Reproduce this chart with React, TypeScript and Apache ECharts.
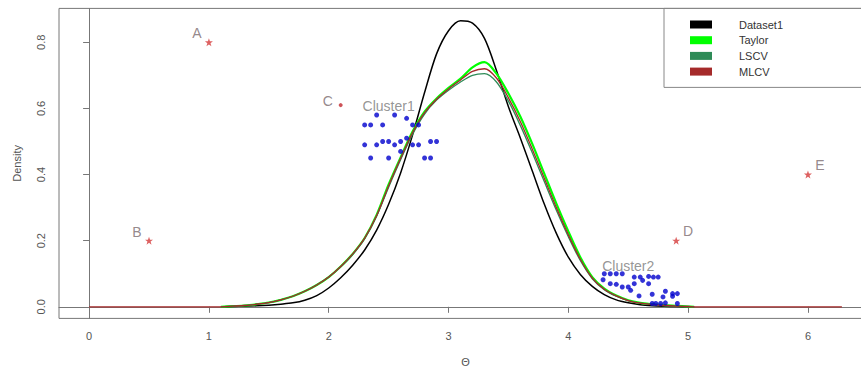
import React, { useEffect, useRef } from "react";
import * as echarts from "echarts";

// x grid (theta) shared by the density curves
const theta = [
  1.1, 1.2, 1.3, 1.4, 1.5, 1.6, 1.7, 1.8, 1.9, 2.0,
  2.1, 2.2, 2.3, 2.4, 2.5, 2.6, 2.7, 2.8, 2.9, 3.0,
  3.1, 3.2, 3.3, 3.4, 3.5, 3.6, 3.7, 3.8, 3.9, 4.0,
  4.1, 4.2, 4.3, 4.4, 4.5, 4.6, 4.7, 4.8, 4.9, 5.0, 5.05,
];

const dataset1 = [
  0.0, 0.001, 0.002, 0.003, 0.005, 0.008, 0.012, 0.02, 0.034, 0.057,
  0.088, 0.126, 0.172, 0.232, 0.31, 0.405, 0.52, 0.648, 0.765, 0.835,
  0.865, 0.858, 0.812, 0.715, 0.605, 0.51, 0.41, 0.31, 0.222, 0.15,
  0.098, 0.062, 0.037, 0.021, 0.012, 0.006, 0.003, 0.0015, 0.0007, 0.0002, 0.0,
];

const taylor = [
  0.0, 0.002, 0.004, 0.008, 0.013, 0.021, 0.032, 0.047, 0.066, 0.09,
  0.122, 0.16, 0.208, 0.278, 0.37, 0.452, 0.53, 0.59, 0.63, 0.662,
  0.69, 0.724, 0.74, 0.705, 0.645, 0.575, 0.492, 0.402, 0.312, 0.228,
  0.15, 0.09, 0.055, 0.034, 0.02, 0.012, 0.008, 0.005, 0.003, 0.001, 0.0,
];

const lscv = [
  0.0, 0.002, 0.004, 0.008, 0.013, 0.021, 0.032, 0.047, 0.066, 0.09,
  0.121, 0.158, 0.206, 0.274, 0.362, 0.445, 0.522, 0.583, 0.625, 0.655,
  0.68, 0.7, 0.705, 0.68, 0.622, 0.548, 0.465, 0.378, 0.292, 0.212,
  0.14, 0.085, 0.052, 0.032, 0.019, 0.011, 0.007, 0.004, 0.002, 0.001, 0.0,
];

const mlcv = [
  0.0, 0.002, 0.004, 0.008, 0.013, 0.021, 0.032, 0.047, 0.066, 0.09,
  0.122, 0.16, 0.208, 0.276, 0.366, 0.449, 0.527, 0.587, 0.628, 0.659,
  0.686, 0.712, 0.72, 0.692, 0.632, 0.56, 0.476, 0.388, 0.3, 0.218,
  0.144, 0.087, 0.053, 0.033, 0.019, 0.011, 0.007, 0.004, 0.002, 0.001, 0.0,
];

// MLCV flat zero extension over the full circle [0, 2π]
const mlcvHead = [[0, 0]];
const mlcvTail = [[6.2832, 0]];

// Cluster points
const cluster1Theta = [
  2.4, 2.55, 2.65, 2.3, 2.35, 2.45, 2.7, 2.75, 2.65, 2.45, 2.5, 2.6,
  2.85, 2.9, 2.3, 2.4, 2.55, 2.7, 2.75, 2.6, 2.35, 2.5, 2.8, 2.85,
];
const cluster1Density = [
  0.58, 0.58, 0.57, 0.55, 0.55, 0.55, 0.55, 0.55, 0.51, 0.5, 0.5, 0.5,
  0.5, 0.5, 0.49, 0.49, 0.49, 0.49, 0.49, 0.47, 0.45, 0.45, 0.45, 0.45,
];

const cluster2Theta = [
  4.3, 4.35, 4.4, 4.45, 4.55, 4.6, 4.67, 4.71, 4.75, 4.29, 4.62,
  4.35, 4.4, 4.55, 4.67, 4.45, 4.5, 4.52, 4.81, 4.87, 4.91,
  4.59, 4.7, 4.79, 4.87, 4.7, 4.73, 4.77, 4.81, 4.91,
];
const cluster2Density = [
  0.1, 0.1, 0.1, 0.1, 0.09, 0.09, 0.092, 0.09, 0.09, 0.082, 0.08,
  0.07, 0.068, 0.07, 0.07, 0.06, 0.06, 0.05, 0.047, 0.04, 0.04,
  0.033, 0.038, 0.03, 0.032, 0.01, 0.01, 0.01, 0.012, 0.01,
];

// Outlier points
const starNames = ["A", "B", "D", "E"];
const starTheta = [1.0, 0.5, 4.9, 6.0];
const starDensity = [0.8, 0.2, 0.2, 0.4];
const dotNames = ["C"];
const dotTheta = [2.1];
const dotDensity = [0.61];

// Cluster captions
const clusterNames = ["Cluster1", "Cluster2"];
const clusterTheta = [2.5, 4.5];
const clusterDensity = [0.607, 0.123];

const xTicks = [0, 1, 2, 3, 4, 5, 6];
const yTicks = [0, 0.2, 0.4, 0.6, 0.8];
const seriesNames = ["Dataset1", "Taylor", "LSCV", "MLCV"];

const FONT = "'Liberation Sans', Arial, sans-serif";
const STAR =
  "path://M12,0 L14.9,8.3 L23.4,8.3 L16.5,13.5 L19.1,21.9 L12,16.8 L4.9,21.9 L7.5,13.5 L0.6,8.3 L9.1,8.3 Z";

const zip = (xs: number[], ys: number[]) => xs.map((x, i) => [x, ys[i]]);

export default function App() {
  const ref = useRef<HTMLDivElement>(null);

  useEffect(() => {
    document.body.style.margin = "0";
    if (!ref.current) return;
    const chart = echarts.init(ref.current, undefined, { renderer: "svg" });

    const lineBase = (name: string, data: number[][], color: string, width: number) => ({
      name,
      type: "line",
      data,
      showSymbol: false,
      symbol: "none",
      smooth: 0.3,
      lineStyle: { color, width },
      itemStyle: { color },
      silent: true,
      z: 3,
    });

    const labelFor = (name: string, x: number) => ({
      show: true,
      formatter: name,
      position: "inside",
      offset: x < 3 ? [-12, -9] : [12, -10],
      color: "#7a6a6e",
      fontSize: 14,
      fontFamily: FONT,
    });

    chart.setOption({
      animation: false,
      backgroundColor: "#ffffff",
      grid: {
        show: true,
        left: 59,
        top: 8.4,
        width: 813,
        height: 310,
        borderColor: "#777",
        borderWidth: 1,
        containLabel: false,
        outerBoundsMode: "none",
      },
      legend: {
        data: seriesNames,
        orient: "vertical",
        left: 690,
        top: 19,
        padding: 0,
        icon: "rect",
        itemWidth: 22,
        itemHeight: 8,
        itemGap: 4.7,
        selectedMode: false,
        textStyle: {
          fontSize: 11,
          lineHeight: 11,
          color: "#333",
          fontFamily: FONT,
          padding: [0, 0, 0, 22],
        },
      },
      xAxis: {
        type: "value",
        min: -0.2513,
        max: 6.5345,
        axisLine: { show: true, lineStyle: { color: "#777" } },
        axisTick: { show: true, length: 6, customValues: xTicks, lineStyle: { color: "#777" } },
        axisLabel: {
          customValues: xTicks,
          margin: 12,
          fontSize: 11,
          color: "#555",
          fontFamily: FONT,
        },
        splitLine: { show: false },
      },
      yAxis: {
        type: "value",
        min: -0.035,
        max: 0.9025,
        axisLine: { show: true, lineStyle: { color: "#777" } },
        axisTick: { show: true, length: 6, customValues: yTicks, lineStyle: { color: "#777" } },
        axisLabel: {
          customValues: yTicks,
          rotate: 90,
          margin: 13,
          fontSize: 11,
          color: "#555",
          fontFamily: FONT,
          formatter: (v: number) => v.toFixed(1),
        },
        splitLine: { show: false },
      },
      graphic: [
        {
          type: "rect",
          shape: { x: 664, y: 8.4, width: 220, height: 79 },
          style: { fill: "none", stroke: "#888", lineWidth: 1 },
          silent: true,
          z: 10,
        },
        {
          type: "text",
          x: 465.5,
          y: 362,
          style: {
            text: "Θ",
            fontSize: 11,
            fill: "#555",
            fontFamily: FONT,
            align: "center",
            verticalAlign: "middle",
          },
        },
        {
          type: "text",
          x: 17,
          y: 163.4,
          rotation: Math.PI / 2,
          style: {
            text: "Density",
            fontSize: 11,
            fill: "#555",
            fontFamily: FONT,
            align: "center",
            verticalAlign: "middle",
          },
        },
      ],
      series: [
        lineBase(seriesNames[0], zip(theta, dataset1), "#000000", 1.5),
        lineBase(seriesNames[1], zip(theta, taylor), "#00ff00", 2.2),
        lineBase(seriesNames[2], zip(theta, lscv), "#2e8b57", 1.3),
        lineBase(
          seriesNames[3],
          [...mlcvHead, ...zip(theta, mlcv), ...mlcvTail],
          "#a52a2a",
          1.3
        ),
        {
          name: "cluster1",
          type: "scatter",
          data: zip(cluster1Theta, cluster1Density),
          symbol: "circle",
          symbolSize: 5,
          itemStyle: { color: "#0000cd" },
          silent: true,
          z: 4,
        },
        {
          name: "cluster2",
          type: "scatter",
          data: zip(cluster2Theta, cluster2Density),
          symbol: "circle",
          symbolSize: 5,
          itemStyle: { color: "#0000cd" },
          silent: true,
          z: 4,
        },
        {
          name: "stars",
          type: "scatter",
          data: starNames.map((n, i) => ({
            name: n,
            value: [starTheta[i], starDensity[i]],
            label: labelFor(n, starTheta[i]),
          })),
          symbol: STAR,
          symbolSize: 8,
          itemStyle: { color: "#d43a3a" },
          silent: true,
          z: 4,
        },
        {
          name: "dots",
          type: "scatter",
          data: dotNames.map((n, i) => ({
            name: n,
            value: [dotTheta[i], dotDensity[i]],
            label: { ...labelFor(n, dotTheta[i]), offset: [-13, -4] },
          })),
          symbol: "circle",
          symbolSize: 4,
          itemStyle: { color: "#c0282e" },
          silent: true,
          z: 4,
        },
        {
          name: "captions",
          type: "scatter",
          data: clusterNames.map((n, i) => ({
            name: n,
            value: [clusterTheta[i], clusterDensity[i]],
          })),
          symbolSize: 0,
          label: {
            show: true,
            formatter: (p: any) => p.name,
            position: "inside",
            color: "#7a7a7a",
            fontSize: 14,
            fontFamily: FONT,
          },
          silent: true,
          z: 5,
        },
      ],
    });

    return () => chart.dispose();
  }, []);

  return <div ref={ref} style={{ width: 861, height: 368 }} />;
}
